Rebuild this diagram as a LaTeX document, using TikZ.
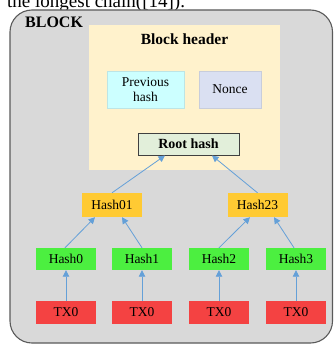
\documentclass[tikz,border=0pt]{standalone}
\usepackage{fontspec}
\setmainfont{Liberation Serif}
\usetikzlibrary{arrows.meta}
\definecolor{outerfill}{HTML}{D9D9D9}
\definecolor{outerline}{HTML}{5A5A5A}
\definecolor{headerfill}{HTML}{FFF2CC}
\definecolor{prevfill}{HTML}{CCFFFF}
\definecolor{noncefill}{HTML}{DAE0F2}
\definecolor{rootfill}{HTML}{E2EFDA}
\definecolor{midfill}{HTML}{FFCA33}
\definecolor{leaffill}{HTML}{4CEF40}
\definecolor{txfill}{HTML}{F44242}
\definecolor{linkcol}{HTML}{64A0D8}
\tikzset{
  box/.style={rectangle, inner sep=0pt, align=center, font=\fontsize{13.5}{14}\selectfont},
  midbox/.style={box, fill=midfill, minimum width=60pt, minimum height=24pt},
  leafbox/.style={box, fill=leaffill, minimum width=60pt, minimum height=22pt},
  txbox/.style={box, fill=txfill, minimum width=60pt, minimum height=23pt},
  link/.style={draw=linkcol, line width=0.8pt, -{Triangle[length=6.5pt,width=6.5pt]}},
}
\begin{document}
\begin{tikzpicture}[x=1pt, y=-1pt]
\clip (0,0) rectangle (334,345);
\useasboundingbox (0,0) rectangle (334,345);
% caption line running above the figure
\node[anchor=base west, inner sep=0pt, font=\fontsize{19}{20}\selectfont] (cap) at (7,7.5) {the longest chain([14]).};
% outer block
\draw[fill=outerfill, draw=outerline, line width=1.1pt, rounded corners=22pt] (10,10) rectangle (332.5,343);
\node[anchor=north west, inner sep=0pt, font=\bfseries\fontsize{16}{17}\selectfont] (blk) at (25,17) {BLOCK};
% block header
\node[box, fill=headerfill, minimum width=191pt, minimum height=145pt] (hdr) at (184.5,97.5) {};
\node[box, font=\bfseries\fontsize{15.5}{16}\selectfont] (hdrt) at (184.5,39) {Block header};
\node[box, fill=prevfill, draw=prevfill!80!gray, line width=0.3pt, minimum width=77pt, minimum height=37pt, font=\fontsize{13.5}{15}\selectfont] (prev) at (145.5,89.5) {Previous\\hash};
\node[box, fill=noncefill, draw=noncefill!80!gray, line width=0.3pt, minimum width=62pt, minimum height=37pt] (nonce) at (230,89.5) {Nonce};
\node[box, fill=rootfill, draw=black!75, line width=1pt, minimum width=101pt, minimum height=22pt, font=\bfseries\fontsize{14}{15}\selectfont] (root) at (188.5,144) {Root hash};
% tree
\node[midbox] (h01) at (112,205) {Hash01};
\node[midbox] (h23) at (257.5,205) {Hash23};
\node[leafbox] (h0) at (66,259) {Hash0};
\node[leafbox] (h1) at (142,259) {Hash1};
\node[leafbox] (h2) at (219,259) {Hash2};
\node[leafbox] (h3) at (296,259) {Hash3};
\node[txbox] (t0) at (66,312.5) {TX0};
\node[txbox] (t1) at (142,312.5) {TX0};
\node[txbox] (t2) at (219,312.5) {TX0};
\node[txbox] (t3) at (296,312.5) {TX0};
% links
\draw[link] (h01.north) -- ([xshift=-23.5pt]root.south);
\draw[link] (h23.north) -- ([xshift=23.5pt]root.south);
\draw[link] ([xshift=-1pt]h0.north) -- ([xshift=-17pt]h01.south);
\draw[link] (h1.north) -- ([xshift=10pt]h01.south);
\draw[link] (h2.north) -- ([xshift=-7.5pt]h23.south);
\draw[link] ([xshift=-2pt]h3.north) -- ([xshift=16.5pt]h23.south);
\draw[link] (t0.north) -- (h0.south);
\draw[link] (t1.north) -- (h1.south);
\draw[link] (t2.north) -- (h2.south);
\draw[link] (t3.north) -- (h3.south);
\end{tikzpicture}
\end{document}
